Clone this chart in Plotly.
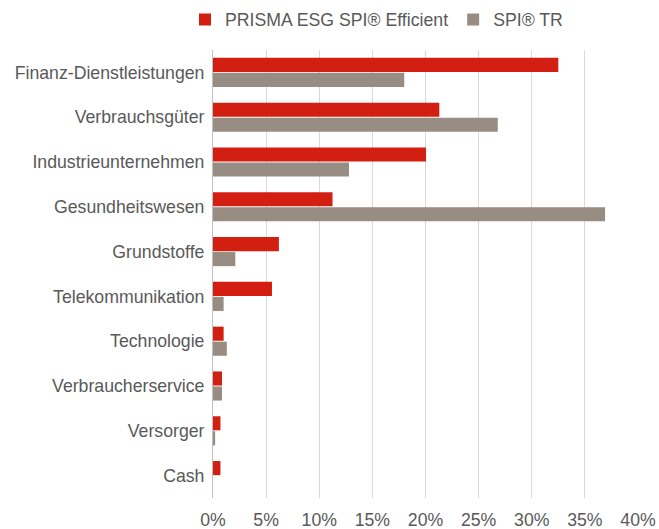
import plotly.graph_objects as go

categories = ["Finanz-Dienstleistungen", "Verbrauchsgüter", "Industrieunternehmen",
              "Gesundheitswesen", "Grundstoffe", "Telekommunikation", "Technologie",
              "Verbraucherservice", "Versorger", "Cash"]
prisma = [32.5, 21.3, 20.05, 11.25, 6.2, 5.55, 1.0, 0.85, 0.7, 0.7]
spi = [18.0, 26.8, 12.8, 36.9, 2.1, 1.0, 1.3, 0.85, 0.2, 0.0]
series_names = ["PRISMA ESG SPI® Efficient", "SPI® TR"]
x_ticks = [0, 5, 10, 15, 20, 25, 30, 35, 40]
x_ticklabels = [f"{t}%" for t in x_ticks]

RED = "#D31F11"
GRAY = "#978D82"
TXT = "#595959"
FONT = "Liberation Sans, Arial, sans-serif"
FS = 17.7

fig = go.Figure()
fig.add_trace(go.Bar(y=categories, x=prisma, name=series_names[0], orientation="h",
                     marker=dict(color=RED, line=dict(width=0))))
fig.add_trace(go.Bar(y=categories, x=spi, name=series_names[1], orientation="h",
                     marker=dict(color=GRAY, line=dict(width=0))))

fig.update_layout(
    width=659, height=529,
    margin=dict(l=213, r=21, t=50, b=31, autoexpand=False),
    paper_bgcolor="white", plot_bgcolor="white",
    barmode="group", bargap=0.33, bargroupgap=0.06,
    font=dict(family=FONT, size=FS, color=TXT),
    legend=dict(orientation="h", xref="container", yref="container",
                x=185 / 659, xanchor="left", y=1 - 20 / 529, yanchor="middle",
                font=dict(size=FS, color=TXT), itemwidth=30,
                traceorder="normal", bgcolor="rgba(0,0,0,0)"),
    showlegend=True,
)
fig.update_xaxes(range=[0, 40], tickvals=x_ticks, ticktext=x_ticklabels,
                 showgrid=True, gridcolor="#D9D9D9", gridwidth=1,
                 zeroline=False, showline=False, automargin=False,
                 ticks="outside", ticklen=6, tickcolor="rgba(0,0,0,0)",
                 tickfont=dict(size=FS, color=TXT), fixedrange=True)
fig.update_yaxes(autorange="reversed", showgrid=False, showline=True,
                 linecolor="#BFBFBF", linewidth=1,
                 ticks="outside", ticklen=4, tickcolor="rgba(0,0,0,0)",
                 tickfont=dict(size=FS, color=TXT), automargin=False)

fig.write_html("out.html", config={"displayModeBar": False},
               post_script="document.body.style.margin='0';document.body.style.padding='0';")
